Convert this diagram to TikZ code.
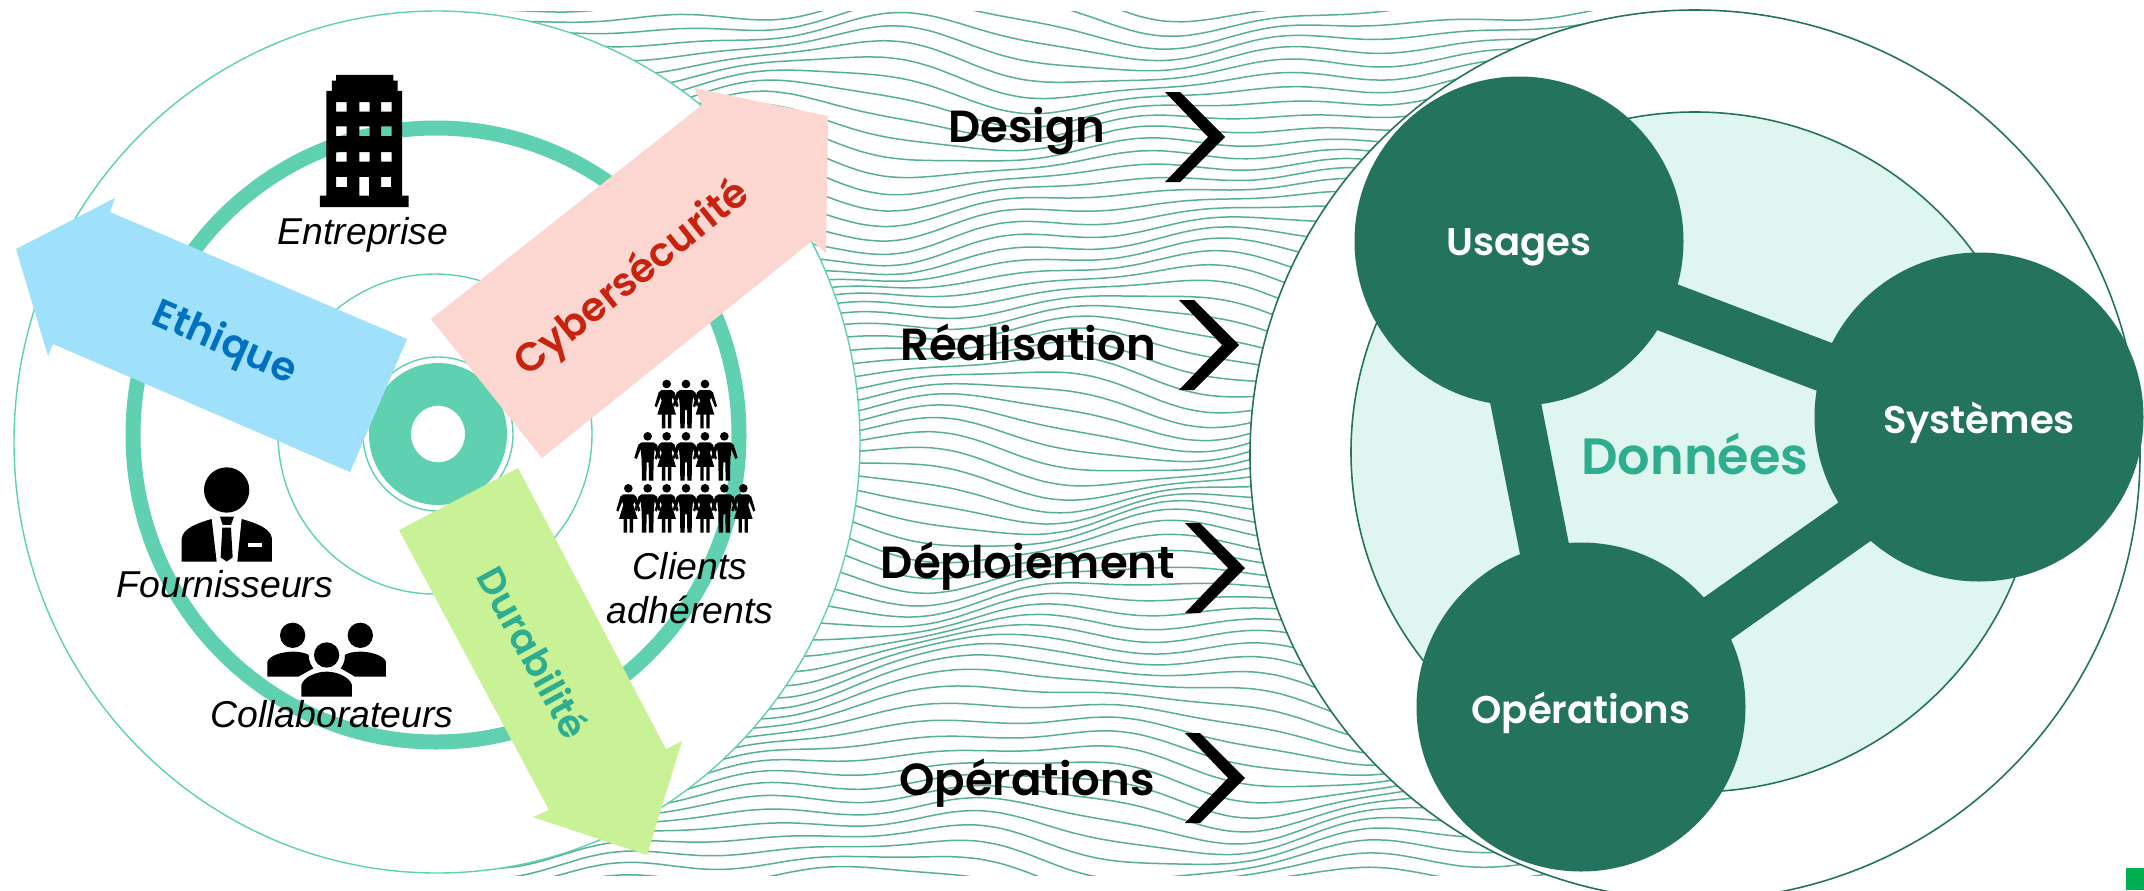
\documentclass[tikz,border=0pt]{standalone}
\usepackage{fontspec}
\setmainfont{Liberation Sans}
\newfontfamily\gothic{Poppins}
\newfontfamily\gothicsb{Poppins SemiBold}
\definecolor{ringc}{HTML}{5FD0B0}
\definecolor{wavec}{HTML}{57AF95}
\definecolor{darkg}{HTML}{24735C}
\definecolor{lightg}{HTML}{DFF5EF}
\definecolor{pinkf}{HTML}{FCD7D2}
\definecolor{bluef}{HTML}{9FE0FA}
\definecolor{greenf}{HTML}{C9F297}
\definecolor{tealt}{HTML}{2FAE8F}
\definecolor{redt}{HTML}{C8230F}
\definecolor{bluet}{HTML}{0070C0}
\definecolor{cornerg}{HTML}{00B050}
\tikzset{
  wave/.style={draw=wavec,line width=0.75pt},
  thinring/.style={draw=ringc,line width=0.7pt},
  darkring/.style={draw=darkg,line width=0.8pt},
  flow/.style={inner sep=0pt,font=\gothicsb\fontsize{20}{24}\selectfont},
  step label/.style={inner sep=0pt,font=\gothicsb\fontsize{22.5}{26}\selectfont,text=black},
  hub/.style={circle,fill=darkg,minimum size=164.5pt,inner sep=0pt,outer sep=0pt},
  hub text/.style={inner sep=0pt,text=white,font=\gothicsb\fontsize{19.3}{23}\selectfont},
  link/.style={draw=darkg,line width=25pt,shorten >=-8pt,shorten <=-8pt},
  who/.style={inner sep=0pt,align=center,font=\itshape\fontsize{18.7}{22}\selectfont},
  chevron/.pic={\fill[black] (0,-45)--(15,-45)--(60,0)--(15,45)--(0,45)--(43,0)--cycle;},
  manfig/.pic={\fill[black] (0,0) circle[radius=13];
    \fill[black] (-18,18)--(18,18)--(28,25)--(40,64)--(33,68)--(21,38)--(18,72)--(17,133)--(4,133)--(3,78)--(-3,78)--(-4,133)--(-17,133)--(-18,72)--(-21,38)--(-33,68)--(-40,64)--(-28,25)--cycle;},
  womanfig/.pic={\fill[black] (0,0) circle[radius=13];
    \fill[black] (-15,18)--(15,18)--(24,25)--(36,66)--(30,70)--(18,40)--(15,50)--(28,92)--(14,92)--(14,133)--(4,133)--(4,92)--(-4,92)--(-4,133)--(-14,133)--(-14,92)--(-28,92)--(-15,50)--(-18,40)--(-30,70)--(-36,66)--(-24,25)--cycle;},
}
\begin{document}
\begin{tikzpicture}[x=0.5pt,y=-0.5pt,
  declare function={
    bp(\a,\b)=(1/(1+(\a)*(\a)+(\b)*(\b)))*(1/(1+(\a)*(\a)+(\b)*(\b)));
    wv(\p,\q)=\q+9*sin(1.0*\p+1.7*\q)+3.5*sin(1.9*\p-1.1*\q+50)+15*sin(0.55*\p+0.9*\q+120)
      -30*bp((\p-985)/120,(\q-690)/75)+20*bp((\p-900)/130,(\q-240)/70)-18*bp((\p-1130)/130,(\q-540)/70)+16*bp((\p-1400)/120,(\q-150)/60);
  }]
\useasboundingbox (0,0) rectangle (2144,890);
\clip (0,0) rectangle (2144,890);
\fill[white] (0,0) rectangle (2144,890);
% waves
\begin{scope}
\clip (0,11) rectangle (2144,875);
\foreach \yo in {-40,-27,...,925}{
  \draw[wave] plot[smooth,domain=470:1600,samples=50] (\x,{wv(\x,\yo)});
}
\end{scope}
% left disc
\fill[white] (437,442) ellipse [x radius=211.5pt,y radius=215.5pt];
\draw[thinring] (437,442) ellipse [x radius=211.5pt,y radius=215.5pt];
\draw[draw=ringc,line width=7.5pt] (436,435) ellipse [x radius=151.5pt,y radius=153.5pt];
\draw[thinring] (435,434) ellipse [x radius=78.5pt,y radius=80pt];
\draw[thinring] (438,434) ellipse [x radius=37.5pt,y radius=38.5pt];
\fill[ringc,even odd rule] (438,434) ellipse [x radius=34.5pt,y radius=35.5pt] (438,434) ellipse [x radius=13.5pt,y radius=14.2pt];
% arrows
\fill[pinkf] (431,319)--(702,105)--(694,88)--(828,116)--(826,253)--(812,241)--(542,458)--cycle;
\fill[bluef] (407,339)--(110,212)--(115,198)--(16,249)--(48,356)--(53,344)--(350,472)--cycle;
\fill[greenf] (518,468)--(666,749)--(682,741)--(647,855)--(533,817)--(549,810)--(399,530)--cycle;
\node[flow,text=bluet,rotate=-23.5] (ethique) at (224,344) {Ethique};
\node[flow,text=redt,rotate=38.7] (cyber) at (633,279) {Cybersécurité};
\node[flow,text=tealt,font=\gothicsb\fontsize{19}{23}\selectfont,rotate=-61.3] (durab) at (534,652) {Durabilité};
% building
\begin{scope}[xscale=0.5485,yscale=0.5672]
\fill[black,even odd rule] (583,365)--(583,345)--(595,345)--(595,160)--(605,160)--(605,142)--(613,142)--(613,132)--(717,132)--(717,142)--(725,142)--(725,160)--(733,160)--(733,345)--(745,345)--(745,365)--cycle
 (613,180) rectangle ++(19,17) (655,180) rectangle ++(19,17) (695,180) rectangle ++(19,17)
 (613,223) rectangle ++(19,17) (655,223) rectangle ++(19,17) (695,223) rectangle ++(19,17)
 (613,268) rectangle ++(19,17) (655,268) rectangle ++(19,17) (695,268) rectangle ++(19,17)
 (613,312) rectangle (633,330) (695,312) rectangle (713,330) (655,312) rectangle (673,345);
\end{scope}
\node[who] (entreprise) at (363,235) {Entreprise};
% businessman
\begin{scope}[shift={(100,360)},scale=0.3333]
\fill[black] (380,390) circle[radius=68];
\fill[black] (245,605)--(245,535)..controls (250,505) and (290,490) ..(335,477)--(350,605)--cycle;
\fill[black] (516,605)--(516,535)..controls (511,505) and (471,490) ..(425,477)--(412,605)--cycle;
\fill[black] (360,470)--(402,470)--(393,495)--(368,495)--cycle;
\fill[black] (367,503)--(393,503)--(398,592)--(380,605)--(362,592)--cycle;
\fill[white] (443,549) rectangle (487,560);
% group
\fill[black] (578,826) circle[radius=38] (781,826) circle[radius=38] (680,885) circle[radius=38];
\fill[black] (502,950)--(502,905)..controls (510,885) and (550,875) ..(580,875)..controls (600,875) and (620,880) ..(626,885)..controls (626,905) and (635,918) ..(640,925)--(595,950)--cycle;
\fill[black] (858,950)--(858,905)..controls (850,885) and (810,875) ..(780,875)..controls (760,875) and (740,880) ..(735,885)..controls (735,905) and (728,918) ..(722,925)--(765,950)--cycle;
\fill[black] (604,1010)--(604,975)..controls (612,950) and (650,935) ..(680,935)..controls (710,935) and (748,950) ..(756,975)--(756,1010)--cycle;
\end{scope}
\node[who] (fourn) at (225,584) {Fournisseurs};
\node[who] (collab) at (332,714) {Collaborateurs};
% crowd
\begin{scope}[shift={(590,360)},scale=0.3333]
\foreach \px/\py in {288/72,173/229,288/229,403/229,173/385,288/385,403/385}{ \pic[transform shape] at (\px,\py) {manfig}; }
\foreach \px/\py in {230/72,345/72,230/229,345/229,115/385,230/385,345/385,460/385}{ \pic[transform shape] at (\px,\py) {womanfig}; }
\end{scope}
\node[who] (clients) at (690,588) {Clients\\adhérents};
% steps
\node[step label] (design) at (1027,131) {Design};
\node[step label] (realisation) at (1028,342) {Réalisation};
\node[step label] (deploiement) at (1028,566) {Déploiement};
\node[step label] (operationsstep) at (1027,783) {Opérations};
\pic at (1165,137) {chevron};
\pic at (1179,345) {chevron};
\pic at (1185,568) {chevron};
\pic at (1185,778) {chevron};
% right disc
\fill[white] (1695,455) circle[radius=222.5pt];
\draw[darkring] (1695,455) circle[radius=222.5pt];
\fill[lightg] (1695,452) ellipse [x radius=172pt,y radius=170pt];
\draw[darkring] (1695,452) ellipse [x radius=172pt,y radius=170pt];
\node[hub] (usages) at (1519,241) {};
\node[hub] (systemes) at (1979,417) {};
\node[hub] (operations) at (1581,707) {};
\draw[link] (usages.-24.4) -- (systemes.162);
\draw[link] (usages.-91) -- (operations.103);
\draw[link] (systemes.220.7) -- (operations.33);
\node[hub text] (usagest) at (1519,247) {Usages};
\node[hub text] (systemest) at (1979,423) {Systèmes};
\node[hub text] (operationst) at (1581,713) {Opérations};
\node[inner sep=0pt,text=tealt,font=\gothicsb\fontsize{25.5}{30}\selectfont] (donnees) at (1695,454) {Données};
\fill[cornerg] (2126,868) rectangle (2144,890);
\end{tikzpicture}
\end{document}
